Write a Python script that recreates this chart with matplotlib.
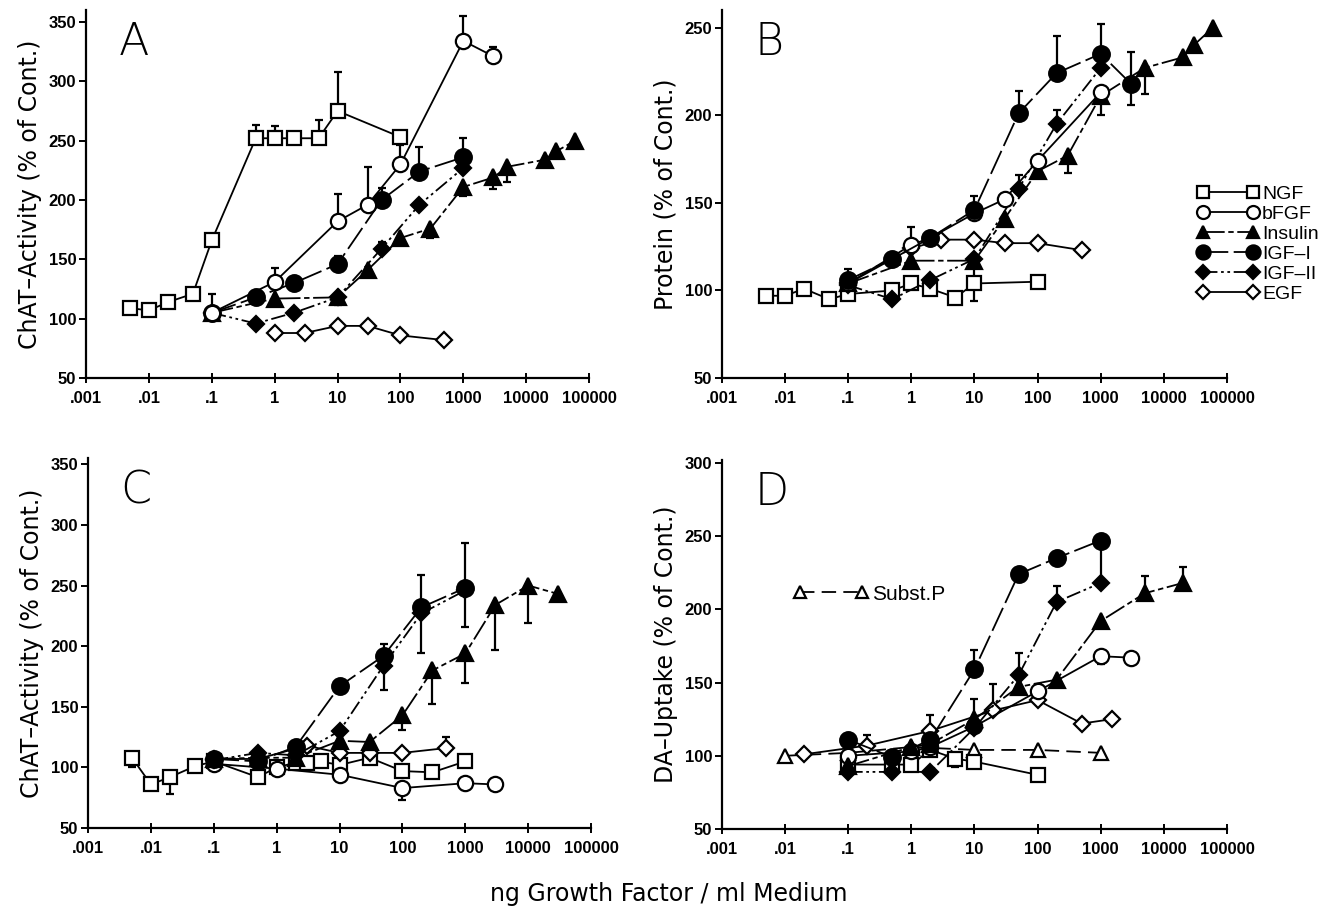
import matplotlib
matplotlib.use('Agg')
import matplotlib.pyplot as plt
from matplotlib.ticker import FixedLocator, NullLocator

# ---- data (dose in ng/ml, response in % of control) ----
# error dicts: dose -> (down, up)

# Panel A: ChAT activity
a_ngf_x = [.005, .01, .02, .05, .1, .5, 1, 2, 5, 10, 100]
a_ngf_y = [109, 107, 114, 121, 166, 252, 252, 252, 252, 275, 253]
a_ngf_err = {.5: (0, 11), 1: (0, 10), 5: (0, 15), 10: (0, 33)}
a_bfgf_x = [.1, 1, 10, 30, 100, 1000, 3000]
a_bfgf_y = [105, 131, 182, 196, 230, 334, 321]
a_bfgf_err = {1: (0, 12), 10: (0, 23), 30: (0, 32), 100: (0, 16), 1000: (0, 21), 3000: (0, 8)}
a_ins_x = [.1, 1, 10, 30, 100, 300, 1000, 3000, 5000, 20000, 30000, 60000]
a_ins_y = [105, 117, 118, 141, 168, 176, 211, 219, 228, 234, 241, 250]
a_ins_err = {10: (6, 0), 300: (8, 0), 1000: (8, 0), 3000: (10, 0), 5000: (13, 0)}
a_igf1_x = [.1, .5, 2, 10, 50, 200, 1000]
a_igf1_y = [105, 118, 130, 146, 200, 224, 236]
a_igf1_err = {.1: (0, 16), 10: (0, 7), 50: (0, 10), 200: (0, 21), 1000: (0, 16)}
a_igf2_x = [.1, .5, 2, 10, 50, 200, 1000]
a_igf2_y = [105, 96, 105, 118, 159, 196, 227]
a_igf2_err = {50: (0, 6)}
a_egf_x = [1, 3, 10, 30, 100, 500]
a_egf_y = [88, 88, 94, 94, 86, 82]

# Panel B: protein
b_ngf_x = [.005, .01, .02, .05, .1, .5, 1, 2, 5, 10, 100]
b_ngf_y = [97, 97, 101, 95, 98, 100, 104, 101, 96, 104, 105]
b_ngf_err = {10: (10, 10)}
b_bfgf_x = [.1, 1, 2, 10, 30, 100, 1000]
b_bfgf_y = [104, 126, 130, 144, 152, 174, 213]
b_bfgf_err = {1: (0, 10)}
b_ins_x = [.1, 1, 10, 30, 100, 300, 1000, 5000, 20000, 30000, 60000]
b_ins_y = [104, 117, 117, 141, 168, 177, 211, 227, 233, 240, 250]
b_ins_err = {300: (10, 0), 1000: (11, 0), 5000: (15, 0)}
b_igf1_x = [.1, .5, 2, 10, 50, 200, 1000, 3000]
b_igf1_y = [106, 118, 130, 146, 201, 224, 235, 218]
b_igf1_err = {.1: (0, 6), 10: (0, 8), 50: (0, 13), 200: (0, 21), 1000: (0, 17), 3000: (12, 18)}
b_igf2_x = [.1, .5, 2, 10, 50, 200, 1000]
b_igf2_y = [103, 95, 106, 118, 158, 195, 227]
b_igf2_err = {.5: (0, 6), 50: (0, 8), 200: (0, 8)}
b_egf_x = [.1, 1, 3, 10, 30, 100, 500]
b_egf_y = [104, 124, 129, 129, 127, 127, 123]

# Panel C: ChAT activity
c_ngf_x = [.005, .01, .02, .05, .1, .5, 1, 2, 3, 5, 10, 30, 100, 300, 1000]
c_ngf_y = [108, 86, 92, 101, 105, 92, 100, 104, 104, 105, 102, 108, 97, 96, 105]
c_ngf_err = {.005: (8, 0), .02: (14, 0)}
c_bfgf_x = [.1, 1, 10, 100, 1000, 3000]
c_bfgf_y = [103, 99, 94, 83, 87, 86]
c_bfgf_err = {100: (10, 0), 1000: (6, 0), 3000: (5, 0)}
c_ins_x = [.1, .5, 2, 10, 30, 100, 300, 1000, 3000, 10000, 30000]
c_ins_y = [107, 108, 108, 122, 121, 143, 180, 194, 234, 250, 243]
c_ins_err = {100: (12, 0), 300: (28, 0), 1000: (24, 0), 3000: (37, 0), 10000: (31, 0)}
c_igf1_x = [.1, .5, 2, 10, 50, 200, 1000]
c_igf1_y = [107, 105, 117, 167, 192, 232, 248]
c_igf1_err = {50: (0, 10), 200: (38, 27), 1000: (32, 37)}
c_igf2_x = [.1, .5, 2, 10, 50, 200, 1000]
c_igf2_y = [106, 112, 110, 130, 184, 227, 246]
c_igf2_err = {50: (20, 0)}
c_egf_x = [.1, .5, 3, 10, 30, 100, 500]
c_egf_y = [107, 107, 118, 112, 112, 112, 116]
c_egf_err = {500: (0, 9)}

# Panel D: dopamine uptake
d_ngf_x = [.1, .5, 1, 2, 5, 10, 100]
d_ngf_y = [94, 94, 94, 104, 98, 96, 87]
d_ngf_err = {5: (6, 0)}
d_bfgf_x = [.1, 1, 2, 10, 100, 1000, 3000]
d_bfgf_y = [100, 103, 106, 120, 144, 168, 167]
d_bfgf_err = {100: (0, 5), 1000: (5, 0), 3000: (5, 0)}
d_ins_x = [.1, 1, 2, 10, 50, 200, 1000, 5000, 20000]
d_ins_y = [93, 106, 108, 125, 147, 152, 192, 211, 218]
d_ins_err = {5000: (0, 12), 20000: (0, 11)}
d_igf1_x = [.1, .5, 2, 10, 50, 200, 1000]
d_igf1_y = [111, 99, 111, 159, 224, 235, 247]
d_igf1_err = {10: (0, 13), 1000: (30, 0)}
d_igf2_x = [.1, .5, 2, 10, 50, 200, 1000]
d_igf2_y = [89, 89, 89, 119, 155, 205, 218]
d_igf2_err = {10: (0, 20), 50: (0, 15), 200: (0, 11)}
d_egf_x = [.02, .2, 2, 20, 100, 500, 1500]
d_egf_y = [101, 107, 117, 131, 138, 122, 125]
d_egf_err = {.2: (0, 7), 2: (0, 11), 20: (0, 18)}
d_subp_x = [.01, .1, 1, 10, 100, 1000]
d_subp_y = [100, 102, 106, 104, 104, 102]

x_ticks = [1e-3, 1e-2, 1e-1, 1, 10, 100, 1000, 1e4, 1e5]
x_labels = ['.001', '.01', '.1', '1', '10', '100', '1000', '10000', '100000']

# ---- styles ----
STY = {
    'NGF': dict(marker='s', mfc='white', ms=10, ls='-'),
    'bFGF': dict(marker='o', mfc='white', ms=11, ls='-'),
    'Insulin': dict(marker='^', mfc='black', ms=11, ls=(0, (12, 2, 3, 2))),
    'IGF-I': dict(marker='o', mfc='black', ms=12, ls=(0, (14, 3))),
    'IGF-II': dict(marker='D', mfc='black', ms=8, ls=(0, (8, 2, 1.5, 2, 1.5, 2))),
    'EGF': dict(marker='D', mfc='white', ms=8, ls='-'),
    'Subst.P': dict(marker='^', mfc='white', ms=10, ls=(0, (8, 4))),
}
TICKFONT = dict(family='Liberation Sans', weight='bold', size=12)


def draw(ax, x, y, name, err=None):
    ln, = ax.plot(x, y, color='black', mec='black', mew=1.6, lw=1.3,
                  label=name, zorder=3, **STY[name])
    if err:
        ex = list(err)
        ey = [y[x.index(k)] for k in ex]
        lo = [err[k][0] for k in ex]
        hi = [err[k][1] for k in ex]
        ax.errorbar(ex, ey, yerr=[lo, hi], fmt='none', ecolor='black',
                    elinewidth=1.6, capsize=3, capthick=1.6, zorder=2)
    return ln


def setup(ax, ytop, yticks, ylabel, letter):
    ax.set_xscale('log')
    ax.set_xlim(1e-3, 1e5)
    ax.set_ylim(50, ytop)
    ax.xaxis.set_major_locator(FixedLocator(x_ticks))
    ax.xaxis.set_minor_locator(NullLocator())
    ax.set_xticklabels(x_labels, fontdict=TICKFONT)
    ax.set_yticks(yticks)
    ax.set_yticklabels([str(v) for v in yticks], fontdict=TICKFONT)
    for s in ('top', 'right'):
        ax.spines[s].set_visible(False)
    for s in ('left', 'bottom'):
        ax.spines[s].set_linewidth(1.6)
    ax.tick_params(axis='x', direction='inout', length=7, width=1.4, pad=6)
    ax.tick_params(axis='y', direction='out', length=5, width=1.4, pad=2)
    ax.set_ylabel(ylabel, fontsize=17, family='DejaVu Sans', labelpad=5)
    ax.text(0.065, 0.97, letter, transform=ax.transAxes, ha='left', va='top',
            fontsize=32, fontweight='light', family='DejaVu Sans')


fig = plt.figure(figsize=(13.38, 9.09), dpi=100)
axA = fig.add_axes([0.0643, 0.584, 0.376, 0.405])
axB = fig.add_axes([0.5396, 0.584, 0.3774, 0.405])
axC = fig.add_axes([0.0658, 0.089, 0.376, 0.407])
axD = fig.add_axes([0.5396, 0.088, 0.3774, 0.406])

setup(axA, 360, [50, 100, 150, 200, 250, 300, 350], 'ChAT\u2013Activity (% of Cont.)', 'A')
setup(axB, 260, [50, 100, 150, 200, 250], 'Protein (% of Cont.)', 'B')
setup(axC, 355, [50, 100, 150, 200, 250, 300, 350], 'ChAT\u2013Activity (% of Cont.)', 'C')
setup(axD, 302, [50, 100, 150, 200, 250, 300], 'DA\u2013Uptake (% of Cont.)', 'D')

draw(axA, a_egf_x, a_egf_y, 'EGF')
draw(axA, a_igf2_x, a_igf2_y, 'IGF-II', a_igf2_err)
draw(axA, a_ins_x, a_ins_y, 'Insulin', a_ins_err)
draw(axA, a_igf1_x, a_igf1_y, 'IGF-I', a_igf1_err)
draw(axA, a_bfgf_x, a_bfgf_y, 'bFGF', a_bfgf_err)
draw(axA, a_ngf_x, a_ngf_y, 'NGF', a_ngf_err)

hB = {}
hB['EGF'] = draw(axB, b_egf_x, b_egf_y, 'EGF')
hB['NGF'] = draw(axB, b_ngf_x, b_ngf_y, 'NGF', b_ngf_err)
hB['IGF-II'] = draw(axB, b_igf2_x, b_igf2_y, 'IGF-II', b_igf2_err)
hB['Insulin'] = draw(axB, b_ins_x, b_ins_y, 'Insulin', b_ins_err)
hB['bFGF'] = draw(axB, b_bfgf_x, b_bfgf_y, 'bFGF', b_bfgf_err)
hB['IGF-I'] = draw(axB, b_igf1_x, b_igf1_y, 'IGF-I', b_igf1_err)

draw(axC, c_ngf_x, c_ngf_y, 'NGF', c_ngf_err)
draw(axC, c_bfgf_x, c_bfgf_y, 'bFGF', c_bfgf_err)
draw(axC, c_egf_x, c_egf_y, 'EGF', c_egf_err)
draw(axC, c_ins_x, c_ins_y, 'Insulin', c_ins_err)
draw(axC, c_igf2_x, c_igf2_y, 'IGF-II', c_igf2_err)
draw(axC, c_igf1_x, c_igf1_y, 'IGF-I', c_igf1_err)

hD = draw(axD, d_subp_x, d_subp_y, 'Subst.P')
draw(axD, d_ngf_x, d_ngf_y, 'NGF', d_ngf_err)
draw(axD, d_egf_x, d_egf_y, 'EGF', d_egf_err)
draw(axD, d_bfgf_x, d_bfgf_y, 'bFGF', d_bfgf_err)
draw(axD, d_ins_x, d_ins_y, 'Insulin', d_ins_err)
draw(axD, d_igf2_x, d_igf2_y, 'IGF-II', d_igf2_err)
draw(axD, d_igf1_x, d_igf1_y, 'IGF-I', d_igf1_err)

order = ['NGF', 'bFGF', 'Insulin', 'IGF-I', 'IGF-II', 'EGF']
labels = ['NGF', 'bFGF', 'Insulin', 'IGF\u2013I', 'IGF\u2013II', 'EGF']
axB.legend([hB[k] for k in order], labels, loc='upper left',
           bbox_to_anchor=(0.925, 0.545), borderaxespad=0, frameon=False,
           numpoints=2, markerscale=0.85, handlelength=3.2, handletextpad=0.15,
           labelspacing=0.12, prop=dict(family='Liberation Sans', size=14))
axD.legend([hD], ['Subst.P'], loc='center left', bbox_to_anchor=(0.125, 0.636),
           borderaxespad=0, frameon=False, numpoints=2, markerscale=0.85,
           handlelength=3.6, handletextpad=0.15,
           prop=dict(family='Liberation Sans', size=15))

fig.text(0.5, 0.017, 'ng Growth Factor / ml Medium', ha='center', va='center',
         fontsize=17, family='DejaVu Sans')

fig.savefig('out.png', dpi=100)
